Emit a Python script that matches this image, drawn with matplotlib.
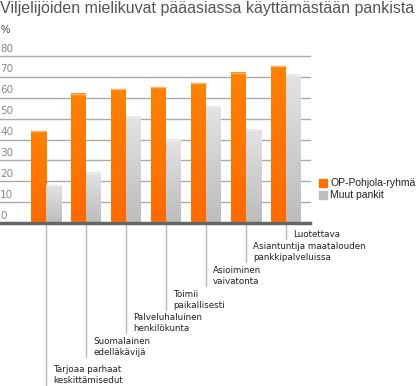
import numpy as np
import matplotlib.pyplot as plt
from matplotlib.colors import LinearSegmentedColormap

# data
categories = [
    "Tarjoaa parhaat\nkeskittämisedut",
    "Suomalainen\nedelläkävijä",
    "Palveluhaluinen\nhenkilökunta",
    "Toimii\npaikallisesti",
    "Asioiminen\nvaivatonta",
    "Asiantuntija maatalouden\npankkipalveluissa",
    "Luotettava",
]
op_values = [44, 62, 64, 65, 67, 72, 75]
other_values = [18, 24, 51, 40, 56, 45, 71]
series_names = ["OP-Pohjola-ryhmä", "Muut pankit"]
y_ticks = [0, 10, 20, 30, 40, 50, 60, 70, 80]

# how far each leader line drops below the axis (pixels)
drops = [162, 134, 110, 87, 63, 39, 16]

W, H = 419, 386
fig = plt.figure(figsize=(W / 100, H / 100), dpi=100)
ax = fig.add_axes([0, 1 - 223 / H, 310 / W, (223 - 56) / H])
px = 80 / (223 - 56)  # data units per pixel in y

orange_cmap = LinearSegmentedColormap.from_list("o", ["#ff8200", "#ff6a00"])
gray_cmap = LinearSegmentedColormap.from_list("g", ["#e3e3e3", "#bcbcbc"])
grad = np.linspace(0, 1, 64).reshape(-1, 1)

bw = 15 / 40
x = np.arange(len(categories))

for yv in y_ticks[1:]:
    ax.axhline(yv, color="#aaaaaa", lw=1, zorder=1, clip_on=False)

for i in x:
    for val, left, cmap, top_col in [
        (op_values[i], i - bw, orange_cmap, "#ffb27a"),
        (other_values[i], i, gray_cmap, "#eeeeee"),
    ]:
        ax.imshow(grad, cmap=cmap, aspect="auto", extent=(left, left + bw, 0, val),
                  zorder=2, interpolation="bilinear")
        ax.plot([left, left + bw], [val, val], color=top_col, lw=1, zorder=3,
                solid_capstyle="butt")

ax.axhline(0, color="#666666", lw=2.5, zorder=4, clip_on=False)

for yv in y_ticks:
    ax.text(0.0, yv + 2.5 * px, str(yv), transform=ax.get_yaxis_transform(),
            ha="left", va="bottom", fontsize=7.5, color="#8a8a8a")

# leader lines and category labels below the axis
for i, (cat, d) in enumerate(zip(categories, drops)):
    ax.plot([i, i], [-2 * px, -d * px], color="#bbbbbb", lw=1, clip_on=False, zorder=1)
    ax.text(i + 7 / 40, -d * px, cat, ha="left", va="bottom", fontsize=6.3,
            color="#222222", linespacing=1.3, clip_on=False)

ax.set_xlim(-46 / 40, (310 - 46) / 40)
ax.set_ylim(0, 80)
ax.axis("off")

fig.text(0 / W, 1 - 1 / H, "Viljelijöiden mielikuvat pääasiassa käyttämästään pankista",
         ha="left", va="top", fontsize=11.5, color="#555555", family="Liberation Sans")
fig.text(1 / W, 1 - 30 / H, "%", ha="left", va="center", fontsize=7.5, color="#444444",
         family="Liberation Sans")

# legend
for name, col, yy in [(series_names[0], "#ff7000", 183), (series_names[1], "#bdbdbd", 195)]:
    fig.patches.append(plt.Rectangle((319 / W, 1 - (yy + 4) / H), 8 / W, 8 / H,
                                     transform=fig.transFigure, color=col))
    fig.text(330 / W, 1 - yy / H, name, ha="left", va="center", fontsize=7.5,
             color="#222222", family="Liberation Sans")

fig.savefig("out.png", dpi=100)
